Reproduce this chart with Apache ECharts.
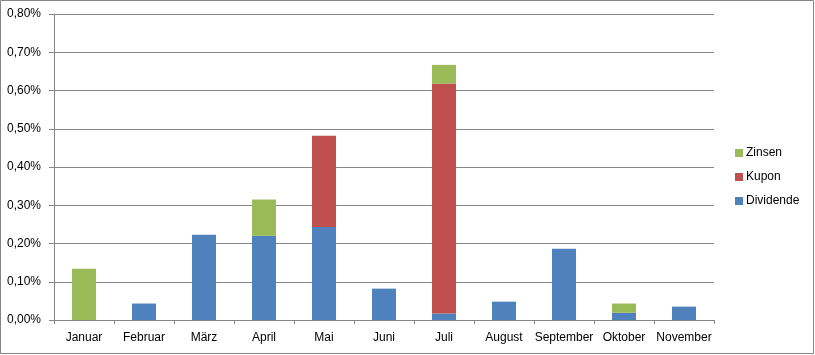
<!DOCTYPE html>
<html>
<head>
<meta charset="utf-8">
<script src="https://cdn.jsdelivr.net/npm/echarts@6/dist/echarts.min.js"></script>
<style>
  html, body { margin: 0; padding: 0; background: #fff; }
  #main { width: 815px; height: 355px; }
</style>
</head>
<body>
<div id="main"></div>
<script>
/* Daten (Prozent) */
let monate = ['Januar', 'Februar', 'März', 'April', 'Mai', 'Juni', 'Juli', 'August', 'September', 'Oktober', 'November'];
let dividende = [0, 0.043, 0.223, 0.220, 0.243, 0.082, 0.017, 0.048, 0.186, 0.019, 0.035];
let kupon = [0, 0, 0, 0, 0.239, 0, 0.601, 0, 0, 0, 0];
let zinsen = [0.134, 0, 0, 0.095, 0, 0, 0.049, 0, 0, 0.024, 0];
let yTicks = [0, 0.8, 0.1]; // min, max, interval

var myChart = echarts.init(document.getElementById('main'));
let schrift = 'Liberation Sans, Arial, sans-serif';

option = {
  animation: false,
  textStyle: { fontFamily: schrift },
  grid: { left: 54, right: 101, top: 14, bottom: 35 },
  // Rahmen um das Diagramm
  graphic: [{
    type: 'rect',
    shape: { x: 0.5, y: 0.5, width: 813, height: 353 },
    style: { fill: 'none', stroke: '#868686', lineWidth: 1 },
    silent: true
  }],
  legend: {
    orient: 'vertical',
    left: 735,
    top: 146,
    padding: 0,
    itemWidth: 8,
    itemHeight: 8,
    itemGap: 10,
    icon: 'rect',
    data: ['Zinsen', 'Kupon', 'Dividende'],
    textStyle: { fontSize: 12, lineHeight: 14, color: '#000', padding: [0, 0, 0, -2] }
  },
  xAxis: {
    type: 'category',
    data: monate,
    axisLine: { lineStyle: { color: '#868686' } },
    axisTick: { show: true, length: 4, lineStyle: { color: '#868686' } },
    axisLabel: { color: '#000', fontSize: 12, margin: 12, interval: 0 }
  },
  yAxis: {
    type: 'value',
    min: yTicks[0],
    max: yTicks[1],
    interval: yTicks[2],
    axisLine: { show: true, lineStyle: { color: '#868686' } },
    axisTick: { show: true, length: 5, lineStyle: { color: '#868686' } },
    splitLine: { lineStyle: { color: '#868686' } },
    axisLabel: {
      color: '#000', fontSize: 12, margin: 13,
      formatter: v => v.toFixed(2).replace('.', ',') + '%'
    }
  },
  series: [
    { name: 'Dividende', type: 'bar', stack: 'a', data: dividende, barWidth: 24, itemStyle: { color: '#4F81BD' } },
    { name: 'Kupon', type: 'bar', stack: 'a', data: kupon, barWidth: 24, itemStyle: { color: '#C0504D' } },
    { name: 'Zinsen', type: 'bar', stack: 'a', data: zinsen, barWidth: 24, itemStyle: { color: '#9BBB59' } }
  ]
};
myChart.setOption(option);
</script>
</body>
</html>
